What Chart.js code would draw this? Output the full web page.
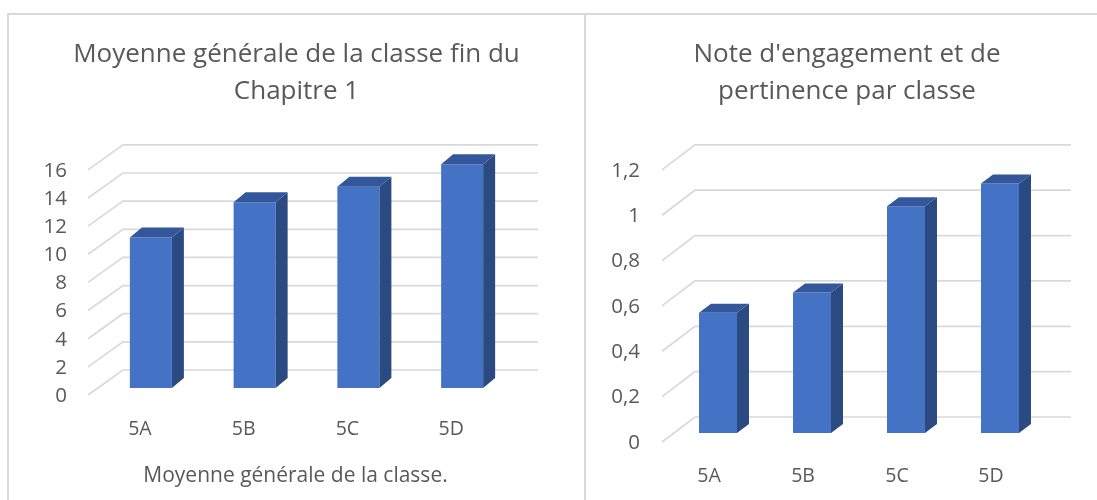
<!DOCTYPE html>
<html>
<head>
<meta charset="utf-8">
<script src="https://cdn.jsdelivr.net/npm/chart.js@4/dist/chart.umd.min.js"></script>
<style>
  html, body { margin: 0; padding: 0; background: #ffffff; }
  body { width: 1097px; height: 500px; position: relative; overflow: hidden; }
  .line { position: absolute; background: #d9d9d9; }
  .wrap { position: absolute; top: 0; height: 500px; }
</style>
</head>
<body>
<div class="line" style="left:7px; top:13px; width:1090px; height:2px;"></div>
<div class="line" style="left:7px; top:13px; width:2px; height:487px;"></div>
<div class="line" style="left:584px; top:13px; width:2px; height:487px;"></div>
<div class="wrap" style="left:0; width:585px;"><canvas id="c1" width="585" height="500"></canvas></div>
<div class="wrap" style="left:586px; width:511px;"><canvas id="c2" width="511" height="500"></canvas></div>
<script>
// ---- data ----
const categories = ['5A', '5B', '5C', '5D'];
const moyenneValues = [10.7, 13.2, 14.3, 15.9];
const engagementValues = [0.53, 0.62, 1.0, 1.1];
const title1 = ['Moyenne générale de la classe fin du', 'Chapitre 1'];
const title2 = ["Note d'engagement et de", 'pertinence par classe'];
const xTitle1 = 'Moyenne générale de la classe.';

const FONT = "'Open Sans', 'DejaVu Sans', sans-serif";
const TEXT = '#595959';

function fmt(v) {
  const r = Math.round(v * 10) / 10;
  return String(r).replace('.', ',');
}

const box3d = {
  id: 'box3d',
  beforeDatasetsDraw(chart, args, o) {
    const ctx = chart.ctx, ca = chart.chartArea, ys = chart.scales.y;
    ctx.save();
    ctx.strokeStyle = '#d9d9d9';
    ctx.lineWidth = 1.7;
    ys.ticks.forEach(t => {
      const y = ys.getPixelForValue(t.value);
      ctx.beginPath();
      ctx.moveTo(ca.left, y);
      ctx.lineTo(ca.left + o.gx, y - o.gy);
      ctx.lineTo(ca.right + o.gx, y - o.gy);
      ctx.stroke();
    });
    ctx.restore();
    ctx.save();
    ctx.translate(o.bx, -o.by);
  },
  afterDatasetsDraw(chart, args, o) {
    const ctx = chart.ctx;
    ctx.restore();
    const meta = chart.getDatasetMeta(0);
    meta.data.forEach(el => {
      const p = el.getProps(['x', 'y', 'base', 'width'], true);
      const l = p.x - p.width / 2 + o.bx, r = p.x + p.width / 2 + o.bx;
      const t = p.y - o.by, b = p.base - o.by;
      ctx.beginPath();
      ctx.moveTo(r, t);
      ctx.lineTo(r + o.dx, t - o.dy);
      ctx.lineTo(r + o.dx, b - o.dy);
      ctx.lineTo(r, b);
      ctx.closePath();
      ctx.fillStyle = '#2b4a82';
      ctx.fill();
      ctx.beginPath();
      ctx.moveTo(l, t);
      ctx.lineTo(l + o.dx, t - o.dy);
      ctx.lineTo(r + o.dx, t - o.dy);
      ctx.lineTo(r, t);
      ctx.closePath();
      ctx.fillStyle = '#33579a';
      ctx.fill();
    });
  }
};

function makeChart(id, values, title, cfg) {
  return new Chart(document.getElementById(id), {
    type: 'bar',
    data: {
      labels: categories,
      datasets: [{
        data: values,
        backgroundColor: '#4472c4',
        borderWidth: 0,
        categoryPercentage: 1,
        barPercentage: cfg.barPct,
        clip: false,
        yAxisID: 'y'
      }]
    },
    options: {
      responsive: false,
      animation: false,
      events: [],
      layout: { padding: { left: cfg.padLeft, right: 0, top: 0, bottom: 0 } },
      plugins: {
        legend: { display: false },
        tooltip: { enabled: false },
        title: {
          display: true,
          text: title,
          color: TEXT,
          font: { family: FONT, size: 26, weight: 'normal', lineHeight: 1.42 },
          padding: { top: cfg.titleTop, bottom: cfg.titleBottom }
        },
        box3d: cfg.d3
      },
      scales: {
        x: {
          grid: { display: false, drawTicks: false },
          border: { display: false },
          ticks: { color: TEXT, font: { family: FONT, size: 19.5 }, padding: cfg.xPad, maxRotation: 0 },
          title: cfg.xTitle ? {
            display: true, text: cfg.xTitle, color: TEXT,
            font: { family: FONT, size: 21 }, padding: { top: 0, bottom: 11 }
          } : { display: false },
          afterFit: s => { s.height = cfg.xHeight; }
        },
        y: {
          min: 0, max: cfg.max,
          grid: { display: false, drawTicks: false },
          border: { display: false },
          ticks: { stepSize: cfg.step, color: TEXT, font: { family: FONT, size: 20.5 }, padding: cfg.yPad, labelOffset: 1, callback: v => fmt(v) },
          afterFit: s => { s.width = cfg.yWidth; }
        },
        yr: {
          position: 'right',
          display: true,
          min: 0, max: 1,
          grid: { display: false, drawTicks: false },
          border: { display: false },
          ticks: { display: false },
          afterFit: s => { s.width = cfg.rightWidth; }
        }
      }
    },
    plugins: [box3d]
  });
}

makeChart('c1', moyenneValues, title1, {
  barPct: 0.405, padLeft: 8, rightWidth: 82, titleTop: 36, titleBottom: 60,
  xPad: 23, xHeight: 105, yWidth: 80, yPad: 21, max: 16, step: 2, xTitle: xTitle1,
  d3: { gx: 35, gy: 25, bx: 11, by: 7, dx: 12, dy: 10 }
});
makeChart('c2', engagementValues, title2, {
  barPct: 0.404, padLeft: 11, rightWidth: 59, titleTop: 36, titleBottom: 60,
  xPad: 23, xHeight: 58, yWidth: 65, yPad: 22, max: 1.2, step: 0.2, xTitle: null,
  d3: { gx: 33, gy: 25, bx: 9, by: 9, dx: 12, dy: 9 }
});
</script>
</body>
</html>
